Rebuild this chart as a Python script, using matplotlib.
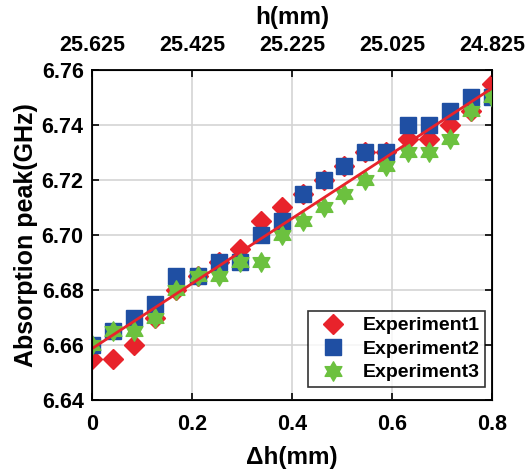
import numpy as np
import matplotlib
matplotlib.use("Agg")
import matplotlib.pyplot as plt
from matplotlib.path import Path

# data
dh = [0.000, 0.042, 0.084, 0.126, 0.168, 0.211, 0.253, 0.295, 0.337, 0.379,
      0.421, 0.463, 0.505, 0.547, 0.589, 0.632, 0.674, 0.716, 0.758, 0.800]
exp1 = [6.655, 6.655, 6.660, 6.670, 6.680, 6.685, 6.690, 6.695, 6.705, 6.710,
        6.715, 6.720, 6.725, 6.730, 6.730, 6.735, 6.735, 6.740, 6.745, 6.755]
exp2 = [6.660, 6.665, 6.670, 6.675, 6.685, 6.685, 6.690, 6.690, 6.700, 6.705,
        6.715, 6.720, 6.725, 6.730, 6.730, 6.740, 6.740, 6.745, 6.750, 6.750]
exp3 = [6.660, 6.665, 6.665, 6.670, 6.680, 6.685, 6.685, 6.690, 6.690, 6.700,
        6.705, 6.710, 6.715, 6.720, 6.725, 6.730, 6.730, 6.735, 6.745, 6.750]
bottom_ticks = [0, 0.2, 0.4, 0.6, 0.8]
top_labels = ["25.625", "25.425", "25.225", "25.025", "24.825"]
y_ticks = [6.64, 6.66, 6.68, 6.70, 6.72, 6.74, 6.76]

plt.rcParams["font.family"] = ["Liberation Sans", "DejaVu Sans"]
plt.rcParams["font.weight"] = "bold"

# six-pointed star like matlab's hexagram
ang = np.deg2rad(90 + 30 * np.arange(12))
rad = np.where(np.arange(12) % 2 == 0, 1.0, 0.577)
verts = np.column_stack([rad * np.cos(ang), rad * np.sin(ang)])
verts = np.vstack([verts, verts[:1]])
hexagram = Path(verts, closed=True)

fig = plt.figure(figsize=(5.29, 4.69), dpi=100)
ax = fig.add_axes([0.174, 0.147, 0.756, 0.704])

ax.plot(dh, exp1, ls="none", marker="D", ms=10.5, color="#e8232b",
        mec="#e8232b", label="Experiment1", zorder=3)
ax.plot(dh, exp2, ls="none", marker="s", ms=11, color="#1f4fa3",
        mec="#1f4fa3", label="Experiment2", zorder=4)
ax.plot(dh, exp3, ls="none", marker=hexagram, ms=14, color="#6cc13f",
        mec="#6cc13f", label="Experiment3", zorder=5)

# linear fit of all three experiments
xs = np.concatenate([dh, dh, dh])
ys = np.concatenate([exp1, exp2, exp3])
k, b = np.polyfit(xs, ys, 1)
xf = np.array([dh[0], dh[-1]])
ax.plot(xf, k * xf + b, color="#e8232b", lw=2, zorder=6)

ax.set_xlim(0, 0.8)
ax.set_ylim(6.64, 6.76)
ax.set_xticks(bottom_ticks)
ax.set_xticklabels(["0", "0.2", "0.4", "0.6", "0.8"])
ax.set_yticks(y_ticks)
ax.set_yticklabels([f"{v:.2f}" for v in y_ticks])
ax.grid(True, color="#d4d4d4", lw=1.2)
ax.set_axisbelow(True)
ax.tick_params(axis="x", direction="in", labelsize=15.5, width=1.2, length=5,
               pad=10)
ax.tick_params(axis="y", direction="in", labelsize=15.5, width=1.2, length=5,
               right=True, pad=6)
for s in ax.spines.values():
    s.set_linewidth(1.3)
ax.set_xlabel("\u0394h(mm)", fontsize=17.5, fontweight="bold", labelpad=8)
ax.set_ylabel("Absorption peak(GHz)", fontsize=18, fontweight="bold", labelpad=3)

top = ax.twiny()
top.set_xlim(ax.get_xlim())
top.set_xticks(bottom_ticks)
top.set_xticklabels(top_labels)
top.tick_params(direction="in", labelsize=15.5, width=1.2, length=5, pad=10)
top.set_xlabel("h(mm)", fontsize=17.5, fontweight="bold", labelpad=8)

leg = ax.legend(loc="lower right", bbox_to_anchor=(0.983, 0.039), fontsize=14,
                frameon=True, fancybox=False, edgecolor="black",
                borderaxespad=0, handletextpad=0.5, labelspacing=0.3,
                borderpad=0.3)
leg.get_frame().set_linewidth(1.2)
for t in leg.get_texts():
    t.set_fontweight("bold")

fig.savefig("out.png", dpi=100)
